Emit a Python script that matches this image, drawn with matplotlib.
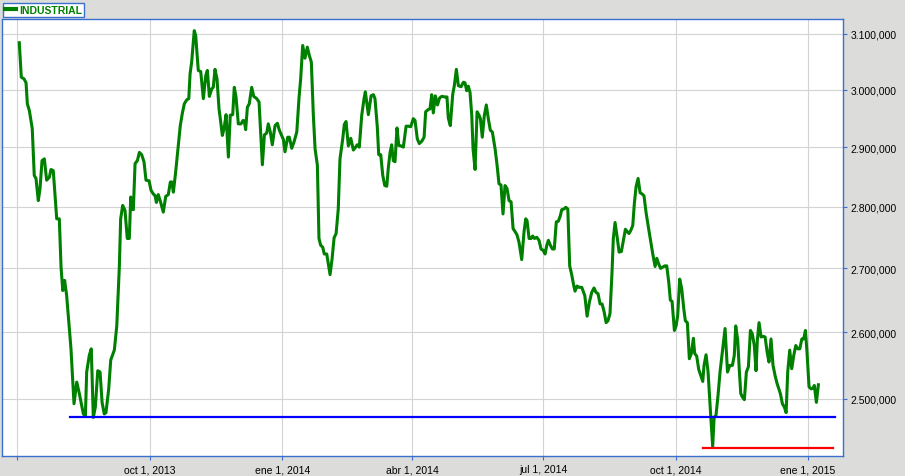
import datetime
import matplotlib
matplotlib.use("Agg")
import matplotlib.pyplot as plt
import matplotlib.dates as mdates
import matplotlib.ticker as mticker
import numpy as np

plt.rcParams['font.family'] = ['Liberation Sans', 'DejaVu Sans']

# series: days after 2013-07-01, index value in thousands
start = datetime.date(2013, 7, 1)
days = [
    1.3, 2.7, 4.6, 6.0, 6.9, 8.3, 10.3, 11.7, 12.9, 14.5, 15.7, 17.1, 18.7, 20.3, 22.2, 23.3, 24.9, 27.3, 29.1, 30.3,
    31.5, 32.8, 34.2, 37.2, 39.3, 41.2, 43.0, 45.8, 47.2, 48.1, 49.9, 51.3, 52.7, 54.1, 55.8, 57.4, 58.8, 60.3, 61.5, 63.4,
    64.8, 67.3, 69.0, 70.8, 71.7, 73.1, 74.7, 76.3, 77.7, 78.7, 79.6, 80.5, 81.7, 83.3, 84.7, 86.3, 87.9, 89.3, 91.4, 92.8,
    94.4, 95.6, 96.5, 97.8, 99.5, 101.3, 103.0, 104.8, 106.2, 107.2, 108.3, 109.9, 111.7, 113.1, 114.5, 115.9, 117.6, 119.0, 119.9, 121.0,
    122.8, 123.8, 125.6, 127.3, 129.1, 130.8, 131.9, 133.3, 134.9, 136.0, 137.2, 138.6, 140.0, 140.9, 142.3, 143.5, 144.9, 146.5, 147.8, 149.5,
    150.6, 151.8, 153.4, 155.3, 156.7, 157.6, 158.5, 159.7, 161.0, 162.7, 164.1, 166.2, 167.8, 170.1, 171.5, 173.1, 174.2, 175.6, 177.0, 178.9,
    180.5, 181.9, 183.5, 184.7, 185.8, 187.7, 188.8, 190.5, 192.1, 194.0, 195.6, 196.7, 198.1, 199.7, 201.3, 202.7, 204.1, 205.5, 206.7, 208.3,
    209.4, 210.6, 212.0, 213.1, 214.8, 217.1, 218.5, 219.9, 221.3, 222.8, 224.0, 225.9, 227.0, 228.2, 229.8, 231.5, 233.3, 234.9, 236.0, 237.4,
    239.1, 240.7, 241.6, 243.7, 245.6, 247.2, 248.3, 249.9, 250.9, 252.3, 253.7, 255.1, 256.5, 257.6, 258.8, 259.9, 261.0, 262.2, 263.6, 264.8,
    266.4, 268.0, 269.9, 271.5, 273.1, 274.9, 276.1, 277.7, 279.1, 280.8, 282.4, 283.5, 285.3, 286.5, 287.7, 288.8, 290.2, 291.7, 293.1, 294.7,
    296.9, 298.3, 299.2, 300.6, 302.3, 303.4, 304.8, 306.2, 308.1, 309.7, 310.8, 312.0, 313.1, 314.3, 315.5, 316.4, 317.8, 319.2, 320.6, 321.5,
    322.8, 324.2, 325.6, 327.0, 328.4, 329.8, 331.7, 333.1, 334.4, 335.8, 337.2, 338.6, 340.0, 341.4, 342.8, 344.2, 345.6, 346.9, 348.3, 350.2,
    351.8, 353.0, 353.9, 355.3, 356.7, 357.8, 359.0, 360.6, 362.2, 363.6, 365.0, 366.4, 367.6, 368.7, 370.1, 371.5, 372.8, 374.2, 375.6, 377.0,
    378.0, 379.4, 380.8, 382.2, 383.5, 384.9, 386.3, 387.2, 388.6, 390.0, 391.9, 394.0, 395.6, 397.2, 398.8, 400.4, 401.8, 403.2, 404.6, 406.0,
    407.4, 408.8, 410.1, 411.5, 412.9, 413.8, 415.0, 416.6, 417.8, 419.4, 420.8, 422.2, 423.5, 424.7, 425.9, 427.3, 428.4, 429.6, 431.0, 432.4,
    433.8, 435.1, 436.5, 438.1, 439.8, 441.2, 442.8, 444.0, 445.3, 446.7, 448.1, 449.5, 450.9, 452.3, 453.4, 454.6, 456.2, 457.4, 458.5, 459.9,
    461.3, 462.7, 463.8, 465.2, 466.6, 468.0, 469.4, 470.3, 471.7, 473.1, 474.5, 475.9, 476.8, 478.2, 479.6, 481.5, 482.8, 483.8, 485.1, 486.5,
    487.9, 489.8, 491.4, 493.1, 494.7, 496.5, 497.8, 498.8, 500.2, 501.3, 502.3, 503.4, 504.8, 506.2, 507.6, 509.0, 510.3, 511.7, 512.9, 513.8,
    515.0, 516.4, 517.8, 519.2, 520.6, 521.9, 523.3, 524.7, 526.1, 527.5, 528.9, 529.8, 531.2, 532.6, 533.8, 534.9, 536.3, 537.7, 539.1, 540.5,
    541.9, 543.3, 544.7, 546.0, 547.2, 548.3, 549.7, 551.1, 552.5, 553.4, 554.8, 556.2,
]
industrial = [
    3084, 3022, 3019, 3012, 2975, 2963, 2932, 2852, 2847, 2810, 2830, 2877, 2880, 2844, 2849, 2862, 2860, 2780, 2780, 2702,
    2665, 2681, 2657, 2575, 2493, 2525, 2508, 2478, 2475, 2540, 2565, 2575, 2473, 2488, 2542, 2540, 2495, 2478, 2480, 2515,
    2558, 2573, 2610, 2704, 2780, 2802, 2794, 2748, 2748, 2816, 2796, 2795, 2872, 2877, 2891, 2887, 2875, 2844, 2843, 2827,
    2821, 2818, 2807, 2820, 2807, 2791, 2817, 2820, 2841, 2841, 2824, 2858, 2903, 2937, 2958, 2975, 2982, 2984, 3028, 3049,
    3106, 3097, 3034, 3032, 2984, 3025, 3034, 2988, 3001, 3004, 3036, 3019, 2966, 2949, 2920, 2932, 2956, 2883, 2955, 2956,
    3004, 2987, 2940, 2940, 2946, 2945, 2930, 2969, 2975, 3004, 2988, 2984, 2978, 2870, 2921, 2924, 2940, 2926, 2904, 2937,
    2941, 2929, 2920, 2913, 2892, 2917, 2917, 2898, 2909, 2926, 2987, 3019, 3079, 3056, 3076, 3061, 3049, 2955, 2897, 2869,
    2748, 2737, 2734, 2723, 2723, 2690, 2715, 2749, 2756, 2796, 2880, 2914, 2939, 2944, 2902, 2915, 2895, 2900, 2904, 2900,
    2955, 2984, 2996, 2956, 2989, 2991, 2984, 2935, 2887, 2887, 2852, 2835, 2834, 2866, 2891, 2904, 2877, 2875, 2933, 2903,
    2902, 2900, 2936, 2936, 2935, 2949, 2946, 2914, 2906, 2910, 2917, 2961, 2965, 2966, 2991, 2959, 2989, 2973, 2985, 2988,
    2987, 2987, 2950, 2937, 2992, 3007, 3036, 3007, 3005, 3013, 3012, 2998, 3006, 2995, 2955, 2897, 2862, 2961, 2955, 2949,
    2917, 2954, 2973, 2949, 2929, 2926, 2897, 2869, 2838, 2836, 2788, 2835, 2830, 2810, 2808, 2764, 2759, 2754, 2742, 2714,
    2759, 2780, 2777, 2748, 2748, 2752, 2748, 2750, 2745, 2731, 2729, 2723, 2737, 2745, 2737, 2731, 2731, 2775, 2776, 2785,
    2795, 2796, 2799, 2796, 2704, 2690, 2673, 2664, 2672, 2670, 2670, 2657, 2625, 2647, 2662, 2669, 2662, 2660, 2644, 2644,
    2632, 2615, 2618, 2629, 2694, 2748, 2774, 2748, 2726, 2727, 2745, 2763, 2759, 2756, 2761, 2769, 2805, 2833, 2847, 2823,
    2821, 2818, 2791, 2767, 2743, 2723, 2703, 2716, 2707, 2700, 2702, 2704, 2704, 2678, 2650, 2648, 2603, 2610, 2626, 2683,
    2668, 2637, 2618, 2615, 2560, 2568, 2591, 2568, 2564, 2544, 2535, 2526, 2550, 2566, 2540, 2473, 2431, 2473, 2476, 2505,
    2540, 2575, 2606, 2540, 2550, 2550, 2565, 2610, 2588, 2542, 2508, 2503, 2499, 2540, 2548, 2603, 2598, 2580, 2542, 2588,
    2615, 2593, 2594, 2593, 2570, 2555, 2590, 2550, 2535, 2523, 2514, 2508, 2493, 2488, 2480, 2540, 2573, 2545, 2565, 2580,
    2575, 2575, 2590, 2590, 2603, 2570, 2518, 2515, 2516, 2520, 2495, 2521,
]

# horizontal support levels: (first day, last day, level in thousands)
blue_level = (36.7, 567.8, 2474)
red_level = (476.3, 566.2, 2429)

tick_dates = [datetime.date(2013, 7, 1), datetime.date(2013, 10, 1), datetime.date(2014, 1, 1),
              datetime.date(2014, 4, 1), datetime.date(2014, 7, 1), datetime.date(2014, 10, 1),
              datetime.date(2015, 1, 1)]
tick_labels = ["", "oct 1, 2013", "ene 1, 2014", "abr 1, 2014", "jul 1, 2014", "oct 1, 2014", "ene 1, 2015"]
y_ticks = [2500000, 2600000, 2700000, 2800000, 2900000, 3000000, 3100000]

GREEN = "#008000"
FRAME = "#3a6ecf"
BG = "#dcdddb"


def fmt_value(v, pos=None):
    v = int(round(v))
    return "%d.%03d,%03d" % (v // 1000000, (v // 1000) % 1000, v % 1000)


def main():
    x0 = mdates.date2num(start)
    x = x0 + np.array(days)
    y = np.array(industrial) * 1000.0

    fig = plt.figure(figsize=(9.05, 4.77), dpi=100, facecolor=BG)
    ax = fig.add_axes([2 / 905, 1 - 457 / 477, 841.3 / 905, 437 / 477])
    ax.set_facecolor("white")

    line, = ax.plot(x, y, color=GREEN, lw=2.2, solid_joinstyle="round", zorder=3)
    for lvl, col in ((blue_level, "#0000ff"), (red_level, "#ff0000")):
        ax.plot([x0 + lvl[0], x0 + lvl[1]], [lvl[2] * 1000, lvl[2] * 1000], color=col, lw=1.6, zorder=4)

    ax.set_yscale("log")
    ax.set_ylim(2417400, 3127400)
    ax.set_xlim(x0 - 10.7, x0 + 573.5)

    ax.yaxis.tick_right()
    ax.yaxis.set_major_locator(mticker.FixedLocator(y_ticks))
    ax.yaxis.set_major_formatter(mticker.FuncFormatter(fmt_value))
    ax.yaxis.set_minor_locator(mticker.NullLocator())

    ax.set_xticks([mdates.date2num(d) for d in tick_dates])
    ax.set_xticklabels(tick_labels)

    ax.grid(True, color="#d3d3d3", lw=0.8)
    ax.set_axisbelow(True)
    ax.tick_params(axis="both", direction="out", length=3, width=0.8, color=FRAME,
                   labelsize=7.5, labelcolor="black")
    ax.tick_params(axis="y", pad=2)
    ax.tick_params(axis="x", pad=3)
    for sp in ax.spines.values():
        sp.set_color(FRAME)
        sp.set_linewidth(1.0)

    leg = fig.legend([line], ["INDUSTRIAL"], loc="upper left",
                     bbox_to_anchor=(2.7 / 905, 1 - 3.8 / 477), bbox_transform=fig.transFigure,
                     prop={"weight": "bold", "size": 7.5}, labelcolor=GREEN,
                     frameon=True, fancybox=False, framealpha=1, edgecolor=FRAME,
                     borderpad=0.2, handlelength=1.1, handletextpad=0.25, borderaxespad=0)
    leg.get_frame().set_linewidth(1.0)
    leg.get_lines()[0].set_linewidth(3)

    fig.savefig("out.png", dpi=100, facecolor=BG)


if __name__ == '__main__':
    main()
